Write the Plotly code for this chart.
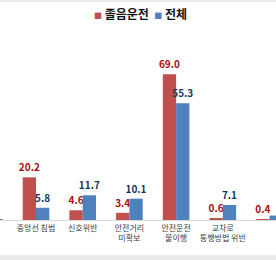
import plotly.graph_objects as go

categories = ["과속", "중앙선 침범", "신호위반", "안전거리<br>미확보", "안전운전<br>불이행",
              "교차로<br>통행방법 위반", "보행자<br>보호의무 위반"]
drowsy = [1.0, 20.2, 4.6, 3.4, 69.0, 0.6, 0.4]
total = [0.2, 5.8, 11.7, 10.1, 55.3, 7.1, 2.1]
series_names = ["졸음운전", "전체"]

RED = "#C0504D"
BLUE = "#4F81BD"
FONT = "Noto Sans CJK KR"

x = list(range(len(categories)))

fig = go.Figure()
fig.add_trace(go.Bar(
    x=x, y=drowsy, name=series_names[0], marker=dict(color=RED, line=dict(width=0)),
    text=[f"<b>{v:.1f}</b>" for v in drowsy], textposition="outside",
    textfont=dict(color="#A50F12", size=10, family=FONT), cliponaxis=False,
    constraintext="none", showlegend=False))
fig.add_trace(go.Bar(
    x=x, y=total, name=series_names[1], marker=dict(color=BLUE, line=dict(width=0)),
    text=[f"<b>{v:.1f}</b>" for v in total], textposition="outside",
    textfont=dict(color="#17365D", size=10, family=FONT), cliponaxis=False,
    constraintext="none", showlegend=False))

legend_text = (f"<span style='color:{RED};font-size:8px'>■</span> <b>{series_names[0]}</b>"
               f"&nbsp;&nbsp;<span style='color:{BLUE};font-size:8px'>■</span> <b>{series_names[1]}</b>")

fig.update_layout(
    width=276, height=260,
    margin=dict(l=0, r=0, t=51, b=40),
    paper_bgcolor="white", plot_bgcolor="white",
    barmode="group", bargap=0.43, bargroupgap=0,
    font=dict(family=FONT, color="#333333"),
    xaxis=dict(range=[0.229, 6.139], tickmode="array", tickvals=x, ticktext=categories,
               tickfont=dict(size=8, color="#404040", family=FONT),
               showline=True, linecolor="#D9D9D9", linewidth=1,
               showgrid=False, zeroline=False, ticks=""),
    yaxis=dict(range=[0, 80], visible=False, showgrid=False, zeroline=False),
    annotations=[dict(text=legend_text, xref="paper", yref="paper", x=0.508, y=1.0,
                      yshift=38, xanchor="center", yanchor="middle", showarrow=False,
                      font=dict(size=12, color="#111111", family=FONT))],
)
fig.add_shape(type="rect", xref="paper", yref="paper", x0=-0.01, x1=1.01,
              y0=-40/169, y1=-35/169, fillcolor="#EBEBEB", line=dict(width=0), layer="below")
fig.add_shape(type="rect", xref="paper", yref="paper", x0=-0.01, x1=1.01,
              y0=1 + 49/169, y1=1 + 51/169, fillcolor="#EBEBEB", line=dict(width=0), layer="below")

fig.write_html("out.html")
